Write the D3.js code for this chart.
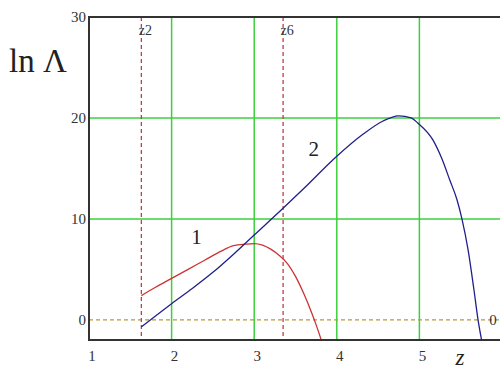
<!DOCTYPE html>
<html><head><meta charset="utf-8">
<script src="https://cdn.jsdelivr.net/npm/d3@7"></script>
<style>html,body{margin:0;padding:0;background:#fff;}svg{display:block;}</style>
</head><body>
<svg id="chart" width="500" height="371"></svg>
<script>
// Data
const xTicks = [1, 2, 3, 4, 5];
const yTicks = [0, 10, 20, 30];
const markers = [{name: "z2", z: 1.634}, {name: "z6", z: 3.35}];
const curve1Z = [1.634, 1.8, 2.0, 2.2, 2.4, 2.6, 2.75, 2.9, 3.0, 3.1, 3.2, 3.3, 3.4, 3.5, 3.6, 3.7, 3.75, 3.82];
const curve1Y = [2.4, 3.2, 4.1, 5.0, 5.9, 6.8, 7.35, 7.5, 7.55, 7.4, 7.0, 6.4, 5.6, 4.3, 2.6, 0.6, -0.5, -2.2];
const curve2Z = [1.634, 2.0, 2.25, 2.5, 2.75, 3.0, 3.33, 3.6, 4.0, 4.32, 4.56, 4.75, 4.9, 4.98, 5.165, 5.27, 5.37, 5.455, 5.515, 5.59, 5.66, 5.71, 5.76];
const curve2Y = [-0.7, 1.6, 3.1, 4.7, 6.5, 8.4, 10.9, 13.0, 16.2, 18.4, 19.7, 20.2, 20.0, 19.5, 17.8, 16.0, 13.8, 11.9, 10.0, 6.9, 3.0, 0.0, -2.3];
const curveLabels = [{text: "1", z: 2.3, y: 7.5}, {text: "2", z: 3.72, y: 16.2}];

const svg = d3.select("#chart");
const L = 89, T = 17, R = 502, B = 340;
const x = d3.scaleLinear().domain([1, 6]).range([L, R]);
const y = d3.scaleLinear().domain([-2, 30]).range([B, T]);

const defs = svg.append("defs");
defs.append("clipPath").attr("id", "clip").append("rect")
  .attr("x", L).attr("y", T).attr("width", R - L).attr("height", B - T);

const plot = svg.append("g").attr("clip-path", "url(#clip)");

// green grid
plot.selectAll(".gx").data(xTicks.slice(1)).join("line")
  .attr("x1", d => x(d)).attr("x2", d => x(d)).attr("y1", T).attr("y2", B)
  .attr("stroke", "#3ccf3c").attr("stroke-width", 1.5);
plot.selectAll(".gy").data([10, 20]).join("line")
  .attr("x1", L).attr("x2", R).attr("y1", d => y(d)).attr("y2", d => y(d))
  .attr("stroke", "#3ccf3c").attr("stroke-width", 1.5);

// zero dashed line
plot.append("line").attr("x1", L).attr("x2", R).attr("y1", y(0)).attr("y2", y(0))
  .attr("stroke", "#b89a3a").attr("stroke-width", 1.3).attr("stroke-dasharray", "4,3");

// vertical dashed markers
plot.selectAll(".mk").data(markers).join("line")
  .attr("x1", d => x(d.z)).attr("x2", d => x(d.z)).attr("y1", T).attr("y2", B)
  .attr("stroke", "#c0404a").attr("stroke-width", 1.3).attr("stroke-dasharray", "4,3");

const line = d3.line().curve(d3.curveMonotoneX);
plot.append("path")
  .attr("d", line(curve1Z.map((z, i) => [x(z), y(curve1Y[i])])))
  .attr("fill", "none").attr("stroke", "#cc3333").attr("stroke-width", 1.3);
plot.append("path")
  .attr("d", line(curve2Z.map((z, i) => [x(z), y(curve2Y[i])])))
  .attr("fill", "none").attr("stroke", "#20208a").attr("stroke-width", 1.3);

// axes frame (left, top, bottom)
svg.append("path")
  .attr("d", `M${R},${T}H${L}V${B}H${R}`)
  .attr("fill", "none").attr("stroke", "#333").attr("stroke-width", 2);

const serif = "'Liberation Serif', 'DejaVu Serif', serif";

// y tick labels
svg.selectAll(".yt").data(yTicks).join("text")
  .attr("x", L - 3).attr("y", d => y(d)).attr("dy", "0.35em")
  .attr("text-anchor", "end").attr("font-family", serif).attr("font-size", 15)
  .attr("fill", "#333").text(d => d);

// x tick labels
svg.selectAll(".xt").data(xTicks).join("text")
  .attr("x", d => x(d) + 3).attr("y", 361)
  .attr("text-anchor", "middle").attr("font-family", serif).attr("font-size", 15)
  .attr("fill", "#333").text(d => d);

// marker labels
svg.selectAll(".ml").data(markers).join("text")
  .attr("x", d => x(d.z) + 4).attr("y", 35)
  .attr("text-anchor", "middle").attr("font-family", serif).attr("font-size", 14)
  .attr("fill", "#333").text(d => d.name);

// curve labels
svg.selectAll(".cl").data(curveLabels).join("text")
  .attr("x", d => x(d.z)).attr("y", d => y(d.y))
  .attr("text-anchor", "middle").attr("font-family", serif).attr("font-size", 21)
  .attr("fill", "#222").text(d => d.text);

// right "0" label
svg.append("text").attr("x", 493).attr("y", y(0)).attr("dy", "0.35em")
  .attr("text-anchor", "middle").attr("font-family", serif).attr("font-size", 15)
  .attr("fill", "#333").text("0");

// axis titles
svg.append("text").attr("x", 9).attr("y", 72)
  .attr("font-family", serif).attr("font-size", 33).attr("fill", "#222").text("ln Λ");
svg.append("text").attr("x", 460).attr("y", 365).attr("text-anchor", "middle")
  .attr("font-family", serif).attr("font-style", "italic").attr("font-size", 23)
  .attr("fill", "#222").text("z");
</script>
</body></html>
